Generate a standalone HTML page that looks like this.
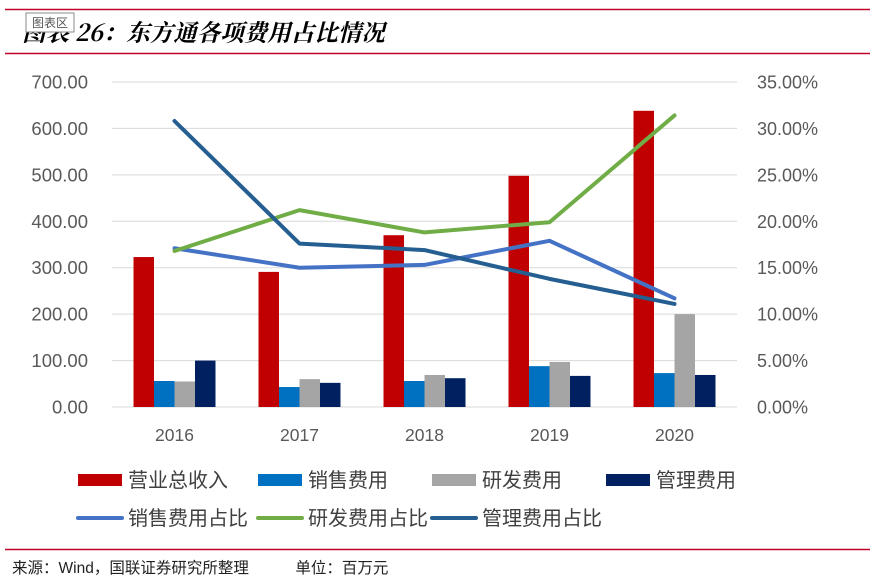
<!DOCTYPE html>
<html><head><meta charset="utf-8"><style>
body{margin:0;background:#fff;width:874px;height:581px;overflow:hidden;font-family:"Liberation Sans","Noto Sans CJK SC",sans-serif}
svg{display:block}
</style></head><body>
<svg id="chart" width="874" height="581">
<line x1="5" y1="9.5" x2="870" y2="9.5" stroke="#c0002a" stroke-width="1.5"/>
<line x1="5" y1="53.5" x2="870" y2="53.5" stroke="#c0002a" stroke-width="1.5"/>
<line x1="5" y1="549.5" x2="870" y2="549.5" stroke="#c0002a" stroke-width="1.5"/>
<text x="22" y="41" font-size="23.5" font-weight="bold" font-style="italic" font-family="'Noto Serif CJK SC','Liberation Serif',serif">图表 26：东方通各项费用占比情况</text>
<rect x="26" y="13" width="48" height="19" fill="#fff" stroke="#888"/>
<text x="32" y="27" font-size="12" fill="#555" font-family="'Noto Sans CJK SC',sans-serif">图表区</text>
<text x="12" y="573" font-size="15.5" fill="#222" font-family="'Liberation Sans','Noto Sans CJK SC',sans-serif">来源：Wind，国联证券研究所整理　　　单位：百万元</text>
<g id="grid"></g><g id="bars"></g><g id="lines"></g><g id="axes"></g><g id="legend"></g>
</svg>
<script>
const categories=['2016','2017','2018','2019','2020'];
const revenue=[323,291,370,498,638];
const salesExp=[56,43,56,88,73];
const rdExp=[55,60,69,97,200];
const mgmtExp=[100,52,62,67,69];
const salesRatio=[17.1,15.0,15.3,17.9,11.7];
const rdRatio=[16.8,21.2,18.8,19.9,31.4];
const mgmtRatio=[30.8,17.6,16.9,13.8,11.1];
const leftTicks=[0,100,200,300,400,500,600,700];
const rightTicks=[0,5,10,15,20,25,30,35];

const NS='http://www.w3.org/2000/svg';
const X0=112,X1=737,Y0=407,Y1=82;
const xC=i=>X0+(X1-X0)/categories.length*(i+0.5);
const yL=v=>Y0-(Y0-Y1)*v/700;
const yR=v=>Y0-(Y0-Y1)*v/35;
function mk(tag,attrs,parent){const e=document.createElementNS(NS,tag);for(const k in attrs)e.setAttribute(k,attrs[k]);document.getElementById(parent).appendChild(e);return e;}
leftTicks.forEach((t,i)=>{
  const l=mk('line',{x1:X0,x2:X1,y1:yL(t),y2:yL(t),stroke:'#d9d9d9'},'grid');
  
  
  const a=mk('text',{x:88,y:yL(t)+6.5,'font-size':18.5,fill:'#595959','text-anchor':'end'},'axes');a.textContent=t.toFixed(2);
  
  
});
rightTicks.forEach(t=>{
  const a=mk('text',{x:757,y:yR(t)+6.5,'font-size':18,fill:'#595959'},'axes');a.textContent=t.toFixed(2)+'%';
  
  
});
categories.forEach((c,i)=>{
  const a=mk('text',{x:xC(i),y:441,'font-size':17.5,fill:'#595959','text-anchor':'middle'},'axes');a.textContent=c;
  
  
});
const barSeries=[[revenue,'#c00000','bar-revenue'],[salesExp,'#0070c0','bar-sales'],[rdExp,'#a5a5a5','bar-rd'],[mgmtExp,'#002060','bar-mgmt']];
const bw=20.5;
barSeries.forEach(([vals,col,name],s)=>{
  vals.forEach((v,i)=>{
    const x=xC(i)-2*bw+s*bw;
    const r=mk('rect',{x:x,y:yL(v),width:bw,height:Y0-yL(v),fill:col},'bars');
    
    
  });
});
const lineSeries=[[salesRatio,'#4472c4','line-sales-ratio'],[rdRatio,'#70ad47','line-rd-ratio'],[mgmtRatio,'#255e91','line-mgmt-ratio']];
lineSeries.forEach(([vals,col,name])=>{
  const p=mk('polyline',{points:vals.map((v,i)=>xC(i)+','+yR(v)).join(' '),fill:'none',stroke:col,'stroke-width':4,'stroke-linejoin':'round','stroke-linecap':'round'},'lines');
  
  
});
const legendItems=[['营业总收入','#c00000','rect',78,480],['销售费用','#0070c0','rect',258,480],['研发费用','#a5a5a5','rect',432,480],['管理费用','#002060','rect',606,480],
['销售费用占比','#4472c4','line',78,518],['研发费用占比','#70ad47','line',258,518],['管理费用占比','#255e91','line',432,518]];
legendItems.forEach(([lab,col,kind,x,y])=>{
  let m;
  if(kind==='rect') m=mk('rect',{x:x,y:y-6,width:44,height:12,fill:col},'legend');
  else m=mk('line',{x1:x,x2:x+44,y1:y,y2:y,stroke:col,'stroke-width':4,'stroke-linecap':'round'},'legend');
  
  
  const t=mk('text',{x:x+50,y:y+7,'font-size':20,fill:'#404040','font-family':"'Noto Sans CJK SC',sans-serif"},'legend');t.textContent=lab;
  
  
});
</script>
</body></html>
